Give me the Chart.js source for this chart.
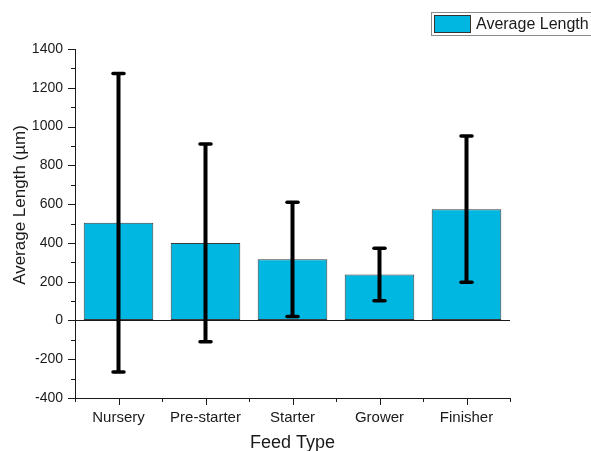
<!DOCTYPE html>
<html><head><meta charset="utf-8">
<script src="https://cdn.jsdelivr.net/npm/chart.js@4"></script>
<style>html,body{margin:0;padding:0;background:#fff}#wrap{width:591px;height:451px;position:relative}</style>
</head><body><div id="wrap"><canvas id="c" width="591" height="451"></canvas></div>
<script>
const categories = ["Nursery", "Pre-starter", "Starter", "Grower", "Finisher"];
const meanValues = [504, 400, 315, 237, 574];
const errorValues = [770, 510, 295, 135, 377];
const yTicks = [-400, -200, 0, 200, 400, 600, 800, 1000, 1200, 1400];
const seriesLabel = "Average Length";
const yTitle = "Average Length (\u00b5m)";
const xTitle = "Feed Type";

const FONT = "'Liberation Sans', Arial, sans-serif";
const INK = "#1a1a1a";
const BAR = "#00b7e1";

const errorBars = {
  id: 'errorBars',
  afterDatasetsDraw(chart) {
    const ctx = chart.ctx, y = chart.scales.y;
    const meta = chart.getDatasetMeta(0);
    ctx.save();
    ctx.strokeStyle = '#000';
    meta.data.forEach((bar, i) => {
      const top = y.getPixelForValue(meanValues[i] + errorValues[i]);
      const bot = y.getPixelForValue(meanValues[i] - errorValues[i]);
      ctx.lineWidth = 4; ctx.lineCap = 'butt';
      ctx.beginPath(); ctx.moveTo(bar.x, top); ctx.lineTo(bar.x, bot); ctx.stroke();
      ctx.lineWidth = 3.5; ctx.lineCap = 'round';
      [top, bot].forEach(p => { ctx.beginPath(); ctx.moveTo(bar.x - 5.5, p); ctx.lineTo(bar.x + 5.5, p); ctx.stroke(); });
    });
    ctx.restore();
  }
};

const axisTicks = {
  id: 'axisTicks',
  afterDraw(chart) {
    const ctx = chart.ctx, y = chart.scales.y, x = chart.scales.x, a = chart.chartArea;
    ctx.save(); ctx.strokeStyle = INK; ctx.lineWidth = 1;
    const minY = yTicks[0], maxY = yTicks[yTicks.length - 1];
    for (let v = minY; v <= maxY; v += 100) {
      const p = Math.round(y.getPixelForValue(v)) + 0.5;
      const len = (v % 200 === 0) ? 7 : 4;
      ctx.beginPath(); ctx.moveTo(a.left, p); ctx.lineTo(a.left - len, p); ctx.stroke();
    }
    const n = categories.length;
    for (let i = 0; i <= n; i++) {
      const p = Math.round(x.getPixelForValue(i - 0.5)) + 0.5;
      ctx.beginPath(); ctx.moveTo(p, a.bottom); ctx.lineTo(p, a.bottom + 4); ctx.stroke();
    }
    for (let i = 0; i < n; i++) {
      const p = Math.round(x.getPixelForValue(i)) + 0.5;
      ctx.beginPath(); ctx.moveTo(p, a.bottom); ctx.lineTo(p, a.bottom + 7); ctx.stroke();
    }
    // y axis title
    ctx.save();
    ctx.translate(20.5, 205);
    ctx.rotate(-Math.PI / 2);
    ctx.fillStyle = INK; ctx.font = "17px " + FONT; ctx.textAlign = 'center'; ctx.textBaseline = 'middle';
    ctx.fillText(yTitle, 0, 0);
    ctx.restore();
    // legend
    const ds = chart.data.datasets[0];
    ctx.strokeStyle = '#8a8a8a'; ctx.lineWidth = 1;
    ctx.strokeRect(431.5, 12.5, 170, 23);
    ctx.fillStyle = ds.backgroundColor; ctx.fillRect(434, 15, 37, 18);
    ctx.strokeStyle = '#333'; ctx.strokeRect(434.5, 15.5, 36, 17);
    ctx.fillStyle = INK; ctx.font = "16px " + FONT; ctx.textBaseline = 'middle'; ctx.textAlign = 'left';
    ctx.fillText(ds.label, 476, 24.5);
    ctx.restore();
  }
};

new Chart(document.getElementById('c'), {
  type: 'bar',
  data: {
    labels: categories,
    datasets: [{
      label: seriesLabel,
      data: meanValues,
      backgroundColor: BAR,
      borderColor: '#3a3a3a',
      borderWidth: 1,
      borderSkipped: false,
      categoryPercentage: 1,
      barPercentage: 0.8
    }]
  },
  options: {
    responsive: false,
    animation: false,
    devicePixelRatio: 1,
    layout: { padding: { left: 0, right: 81, top: 49, bottom: 0 } },
    plugins: { legend: { display: false }, tooltip: { enabled: false } },
    scales: {
      x: {
        afterFit(s) { s.height = 53; },
        grid: { display: false, drawTicks: false },
        border: { display: true, color: INK, width: 1 },
        ticks: { color: INK, font: { family: FONT, size: 15 }, padding: 11, maxRotation: 0 },
        title: { display: true, text: xTitle, color: INK, font: { family: FONT, size: 18 }, padding: { top: 0, bottom: -3 } }
      },
      y: {
        min: yTicks[0], max: yTicks[yTicks.length - 1],
        afterFit(s) { s.width = 75; },
        afterBuildTicks(s) { s.ticks = yTicks.map(v => ({ value: v })); },
        grid: { drawTicks: false, drawOnChartArea: true, color: c => (c.tick && c.tick.value === 0) ? INK : 'rgba(0,0,0,0)', lineWidth: 1 },
        border: { display: true, color: INK, width: 1 },
        ticks: { color: INK, font: { family: FONT, size: 14 }, padding: 12, callback: v => String(v) },
        title: { display: false }
      }
    }
  },
  plugins: [errorBars, axisTicks]
});
</script></body></html>
